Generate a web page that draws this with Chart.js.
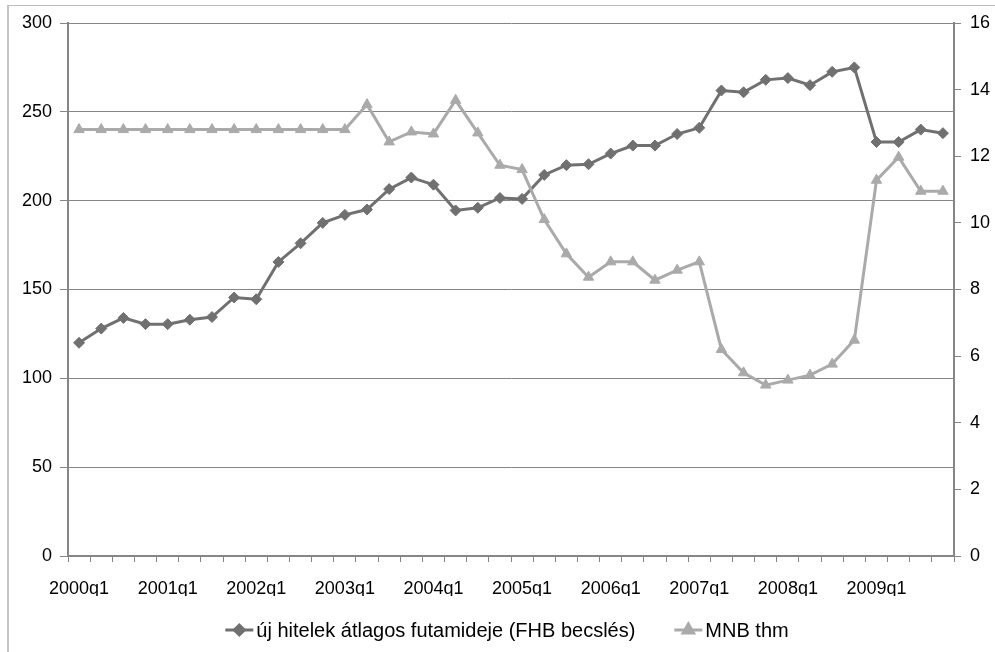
<!DOCTYPE html>
<html>
<head>
<meta charset="utf-8">
<script src="https://cdn.jsdelivr.net/npm/chart.js@4/dist/chart.umd.min.js"></script>
<style>
  html, body { margin: 0; padding: 0; background: #ffffff; }
  #wrap { position: relative; width: 995px; height: 652px; overflow: hidden; }
  #frame { position: absolute; left: 7px; top: 5px; width: 1100px; height: 800px;
           border-top: 1px solid #bdbdbd; border-left: 2px solid #c4c4c4; }
  #c { position: absolute; left: 0; top: 0; }
</style>
</head>
<body>
<div id="wrap">
  <div id="frame"></div>
  <canvas id="c" width="995" height="652"></canvas>
</div>
<script>
// Quarterly categories, 2000q1 – 2009q4
const quarters = [
  '2000q1','2000q2','2000q3','2000q4','2001q1','2001q2','2001q3','2001q4',
  '2002q1','2002q2','2002q3','2002q4','2003q1','2003q2','2003q3','2003q4',
  '2004q1','2004q2','2004q3','2004q4','2005q1','2005q2','2005q3','2005q4',
  '2006q1','2006q2','2006q3','2006q4','2007q1','2007q2','2007q3','2007q4',
  '2008q1','2008q2','2008q3','2008q4','2009q1','2009q2','2009q3','2009q4'
];

// Average maturity of new loans (FHB estimate), months – left axis
const futamido = [
  120, 128, 134, 130.5, 130.5, 133, 134.5, 145.5,
  144.5, 165.5, 176, 187.5, 192, 195, 206.5, 213,
  209, 194.5, 196, 201.5, 201, 214.5, 220, 220.5,
  226.5, 231, 231, 237.5, 241, 262, 261, 268,
  269, 265, 272.5, 275, 233, 233, 240, 238
];

// MNB APR (thm), % – right axis
const mnbThm = [
  12.8, 12.8, 12.8, 12.8, 12.8, 12.8, 12.8, 12.8,
  12.8, 12.8, 12.8, 12.8, 12.8, 13.55, 12.43, 12.73,
  12.67, 13.68, 12.7, 11.73, 11.6, 10.1, 9.07, 8.37,
  8.83, 8.83, 8.28, 8.58, 8.83, 6.2, 5.5, 5.13,
  5.28, 5.43, 5.76, 6.48, 11.28, 11.97, 10.95, 10.95
];

const seriesNames = ['új hitelek átlagos futamideje (FHB becslés)', 'MNB thm'];

const DARK = '#707070';
const LIGHT = '#aaaaaa';
const AXIS = '#868686';
const FONT = '"Liberation Sans", Arial, sans-serif';

// Legend in the spreadsheet style: short line with the marker in its middle
const legendPlugin = {
  id: 'lineLegend',
  afterDraw(chart) {
    const ctx = chart.ctx;
    const y = 630;
    ctx.save();
    ctx.font = '20px ' + FONT;
    const sampleW = 28, textGap = 3, itemGap = 39;
    const styles = [
      { color: DARK, shape: 'rectRot', r: 5 },
      { color: LIGHT, shape: 'triangle', r: 6 }
    ];
    const widths = seriesNames.map(t => ctx.measureText(t).width);
    const total = widths.reduce((a, w) => a + sampleW + textGap + w, 0) + itemGap;
    let x = 507 - total / 2;
    seriesNames.forEach((name, i) => {
      const s = styles[i];
      ctx.strokeStyle = s.color;
      ctx.lineWidth = 3;
      ctx.beginPath();
      ctx.moveTo(x, y);
      ctx.lineTo(x + sampleW, y);
      ctx.stroke();
      Chart.helpers.drawPoint(ctx, {
        pointStyle: s.shape, radius: s.r, borderWidth: 1, rotation: 0
      }, x + sampleW / 2, y);
      ctx.fillStyle = s.color;
      ctx.fill();
      ctx.fillStyle = '#000000';
      ctx.textBaseline = 'middle';
      ctx.textAlign = 'left';
      ctx.fillText(name, x + sampleW + textGap, y + 1);
      x += sampleW + textGap + widths[i] + itemGap;
    });
    ctx.restore();
  }
};

new Chart(document.getElementById('c'), {
  type: 'line',
  data: {
    labels: quarters,
    datasets: [
      {
        label: seriesNames[0],
        data: futamido,
        yAxisID: 'y',
        borderColor: DARK,
        backgroundColor: DARK,
        borderWidth: 3,
        pointStyle: 'rectRot',
        pointRadius: 5.5,
        pointBorderWidth: 1,
        pointBorderColor: DARK,
        pointBackgroundColor: DARK,
        tension: 0,
        order: 1
      },
      {
        label: seriesNames[1],
        data: mnbThm,
        yAxisID: 'y1',
        borderColor: LIGHT,
        backgroundColor: LIGHT,
        borderWidth: 3,
        pointStyle: 'triangle',
        pointRadius: 6,
        pointBorderWidth: 1,
        pointBorderColor: LIGHT,
        pointBackgroundColor: LIGHT,
        tension: 0,
        order: 0
      }
    ]
  },
  options: {
    responsive: false,
    animation: false,
    devicePixelRatio: 1,
    layout: { padding: { top: 23, left: 0, right: 0, bottom: 56 } },
    plugins: {
      legend: { display: false },
      tooltip: { enabled: false }
    },
    scales: {
      x: {
        type: 'category',
        offset: true,
        afterFit(scale) { scale.height = 40; },
        grid: {
          offset: true,
          drawOnChartArea: false,
          drawTicks: true,
          tickLength: 6,
          color: AXIS,
          lineWidth: 1
        },
        border: { display: true, color: AXIS, width: 2 },
        ticks: {
          autoSkip: false,
          maxRotation: 0,
          minRotation: 0,
          padding: 16,
          color: '#000000',
          font: { family: FONT, size: 18 },
          callback(value, index) { return index % 4 === 0 ? quarters[index] : ''; }
        }
      },
      y: {
        position: 'left',
        min: 0,
        max: 300,
        afterFit(scale) { scale.width = 68; },
        ticks: {
          stepSize: 50,
          padding: 8,
          color: '#000000',
          font: { family: FONT, size: 18 }
        },
        grid: {
          color: AXIS,
          lineWidth: 1,
          drawTicks: true,
          tickLength: 8
        },
        border: { display: true, color: AXIS, width: 2 }
      },
      y1: {
        position: 'right',
        min: 0,
        max: 16,
        afterFit(scale) { scale.width = 41; },
        ticks: {
          stepSize: 2,
          padding: 9,
          color: '#000000',
          font: { family: FONT, size: 18 }
        },
        grid: {
          drawOnChartArea: false,
          drawTicks: true,
          tickLength: 7,
          color: AXIS,
          lineWidth: 1
        },
        border: { display: true, color: AXIS, width: 2 }
      }
    }
  },
  plugins: [legendPlugin]
});
</script>
</body>
</html>
